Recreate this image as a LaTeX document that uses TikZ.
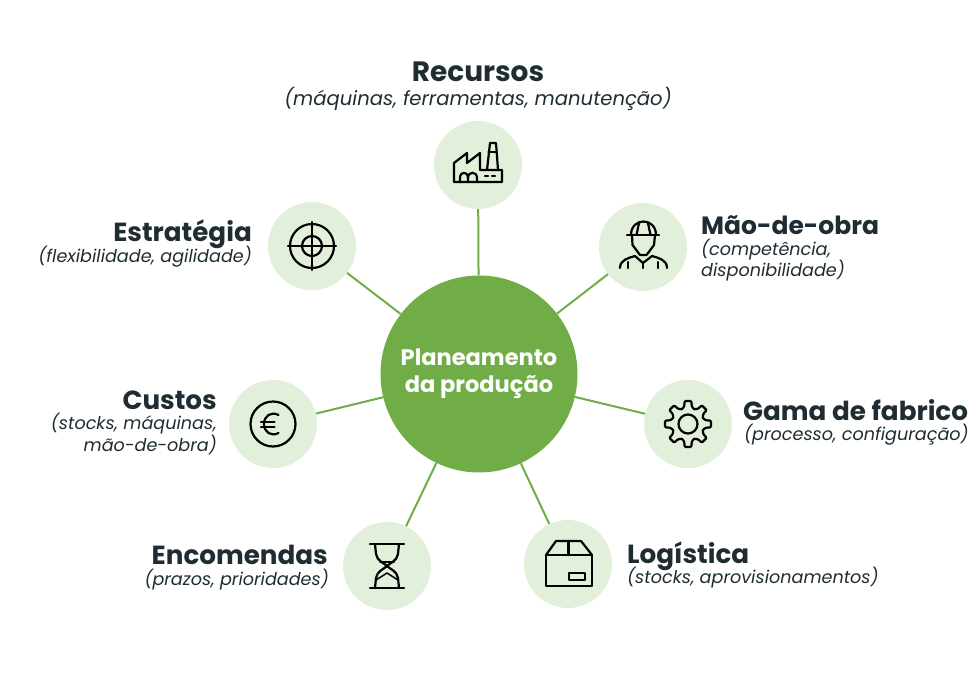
\documentclass[tikz,border=0pt]{standalone}
\usepackage{fontspec}
\setmainfont{Poppins}
\usepackage{tikz}
\definecolor{leafgreen}{HTML}{70AD47}
\definecolor{palegreen}{HTML}{E2EFDA}
\definecolor{inkdark}{HTML}{1F2D33}
\tikzset{
    hub/.style={circle, fill=leafgreen, text=white, minimum size=197pt, inner sep=0pt, align=center,
        font=\bfseries\fontsize{22.5}{27}\selectfont},
    spoke/.style={circle, fill=palegreen, minimum size=88pt, inner sep=0pt},
    link/.style={leafgreen, line width=2pt},
    icon/.style={black, line width=2.2pt, line join=round, line cap=round},
    titletext/.style={inkdark, inner sep=0pt, font=\bfseries\fontsize{26.2}{28}\selectfont},
    subtext/.style={inkdark, inner sep=0pt, font=\itshape\fontsize{17.6}{21.5}\selectfont},
}
\begin{document}
\begin{tikzpicture}[x=1pt,y=-1pt]
    \useasboundingbox (0,0) rectangle (980,688);
    \node[hub] (hub) at (479,374) {Planeamento\\da produção};
    \node[spoke] (recursos) at (478,165) {};
    \node[spoke] (maoobra) at (643,247) {};
    \node[spoke] (gama) at (688,424) {};
    \node[spoke] (logistica) at (568,564) {};
    \node[spoke] (encomendas) at (387,566) {};
    \node[spoke] (custos) at (273,424) {};
    \node[spoke] (estrategia) at (312,246) {};
    \foreach \s in {recursos,maoobra,gama,logistica,encomendas,custos,estrategia}
        \draw[link] (hub) -- (\s);

    \node[titletext, anchor=base, font=\bfseries\fontsize{28}{30}\selectfont] (recursostitle) at (478,81) {Recursos};
    \node[subtext, anchor=base, font=\itshape\fontsize{19.6}{22}\selectfont] (recursossub) at (478,105) {(máquinas, ferramentas, manutenção)};
    \node[titletext, anchor=base west, font=\bfseries\fontsize{25}{28}\selectfont] (maoobratitle) at (701,234) {Mão-de-obra};
    \node[subtext, anchor=west, align=left] (maoobrasub) at (701,260) {(competência,\\disponibilidade)};
    \node[titletext, anchor=base west] (gamatitle) at (743,420) {Gama de fabrico};
    \node[subtext, anchor=base west] (gamasub) at (744,440) {(processo, configuração)};
    \node[titletext, anchor=base west] (logisticatitle) at (627,563) {Logística};
    \node[subtext, anchor=base west] (logisticasub) at (627,583) {(stocks, aprovisionamentos)};
    \node[titletext, anchor=base east] (encomendastitle) at (328,564) {Encomendas};
    \node[subtext, anchor=base east] (encomendassub) at (329,585) {(prazos, prioridades)};
    \node[titletext, anchor=base east] (custostitle) at (217,409) {Custos};
    \node[subtext, anchor=east, align=right] (custossub) at (217,434) {(stocks, máquinas,\\mão-de-obra)};
    \node[titletext, anchor=base east] (estrategiatitle) at (252,241) {Estratégia};
    \node[subtext, anchor=base east] (estrategiasub) at (252,262) {(flexibilidade, agilidade)};

    \begin{scope}[shift={(recursos.center)}, icon]
        \draw (-24,17) -- (-24,-2) -- (-11,-12) -- (-11,-2) -- (2,-12) -- (2,5) -- (24,5) -- (24,17) -- cycle;
        \draw (9,5) -- (12,-22) -- (18,-22) -- (20,5);
        \draw (10.5,-13) -- (18.5,-13);
        \draw (-18,17) -- (-18,13) .. controls (-18,6) and (-10,6) .. (-10,13) -- (-10,17);
        \draw (-10,13) .. controls (-10,6) and (-1,6) .. (-1,13) -- (-1,17);
        \draw (7,11) -- (10,11) (14,11) -- (17,11);
    \end{scope}

    \begin{scope}[shift={(maoobra.center)}, icon]
        \draw (-16,-12) -- (16,-12);
        \draw (-12,-12) .. controls (-12,-30) and (13,-30) .. (13,-12);
        \draw (-4,-24) -- (-6.5,-12) (5,-24) -- (7.5,-12);
        \draw (-11,-12) -- (-10.5,-2) -- (-3,8) -- (3.5,8) -- (11,-2) -- (12,-12);
        \draw (-23,21) .. controls (-23,13) and (-15,11) .. (-8,9) -- (0,16) -- (9,9) .. controls (16,11) and (24,13) .. (24,21);
        \draw (-15,21) -- (-15,15) (0,16) -- (0,21) (15,21) -- (15,15);
    \end{scope}

    \begin{scope}[shift={(gama.center)}, icon]
        \draw (0,0) circle (9.5);
        \foreach \a in {0,45,...,315}
            \draw[rotate=\a, rounded corners=1pt] (-22.5:16) -- (17.5,-3.8) -- (23,-3.3) -- (23,3.3) -- (17.5,3.8) -- (22.5:16);
    \end{scope}

    \begin{scope}[shift={(logistica.center)}, icon]
        \draw (-22,-9) rectangle (24,22);
        \draw (-22,-9) -- (-12,-23) -- (13,-23) -- (24,-9);
        \draw (0.5,-23) -- (0.5,-9);
        \draw (1,9) rectangle (17,16);
    \end{scope}

    \begin{scope}[shift={(encomendas.center)}, icon]
        \draw (-17,-22) -- (17,-22) (-17,22) -- (17,22);
        \draw (-12,-22) -- (-11,-12) .. controls (-10,-5) and (-3,-3) .. (0,0) .. controls (3,-3) and (10,-5) .. (11,-12) -- (12,-22);
        \draw (-12,22) -- (-11,12) .. controls (-10,5) and (-3,3) .. (0,0) .. controls (3,3) and (10,5) .. (11,12) -- (12,22);
        \draw[line width=1.5pt] (-11,14) -- (0,7) -- (11,14);
        \draw[line width=1.5pt] (-7,-4) -- (7,-4);
    \end{scope}

    \begin{scope}[shift={(custos.center)}, icon]
        \draw (0,0) circle (22.5);
        \draw (5.5,-9) .. controls (-2,-13) and (-9,-8) .. (-9,0) .. controls (-9,8) and (-2,13) .. (5.5,9);
        \draw (-12,-2) -- (1.5,-2) (-12,3) -- (1.5,3);
    \end{scope}

    \begin{scope}[shift={(estrategia.center)}, icon]
        \draw (0,0) circle (22);
        \draw (0,0) circle (10);
        \draw (-24,0) -- (24,0) (0,-24) -- (0,24);
    \end{scope}
\end{tikzpicture}
\end{document}
